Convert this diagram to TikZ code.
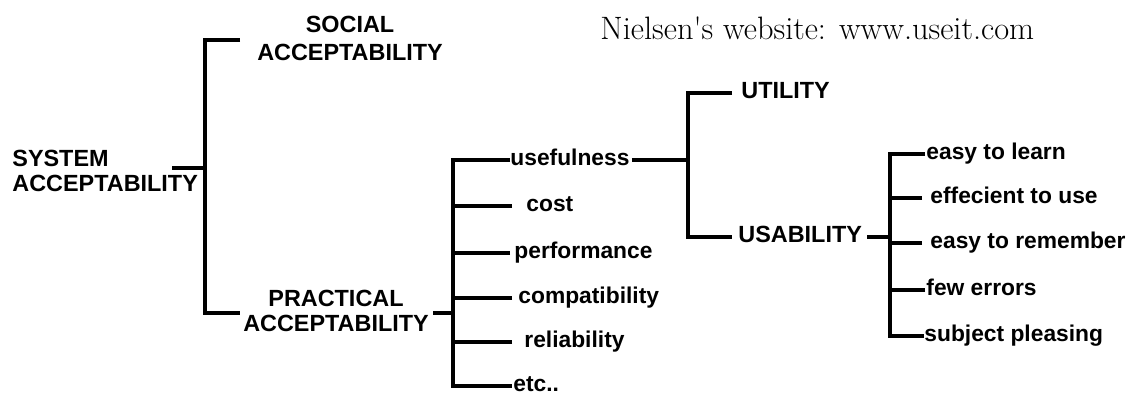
\documentclass[tikz,border=0pt]{standalone}
\usepackage{fontspec}
\setsansfont{Liberation Sans}
\begin{document}
\begin{tikzpicture}[x=.5pt,y=-.5pt,line join=miter,
		tree/.style={line width=2pt},
		caps/.style={inner sep=0pt,font=\sffamily\bfseries\fontsize{11.7}{12.5}\selectfont},
		leaf/.style={inner sep=0pt,anchor=west,text height=1.5ex,text depth=.25ex,font=\sffamily\bfseries\fontsize{11.4}{13}\selectfont}]
		\useasboundingbox(0,0)rectangle(1127,394);
		\node[inner sep=0pt,anchor=west,font=\fontsize{16.2}{18}\selectfont](web)at(600,28){Nielsen\textquotesingle s website: www.useit.com};
		% first level
		\node[caps,align=left,anchor=west](sys)at(12,171){SYSTEM\\ACCEPTABILITY};
		\node[caps,align=center,font=\sffamily\bfseries\fontsize{11.7}{14}\selectfont](soc)at(350,38){SOCIAL\\ACCEPTABILITY};
		\node[caps,align=center](prac)at(336,311){PRACTICAL\\ACCEPTABILITY};
		\coordinate(sysR)at(172,168);
		\coordinate(b1)at(205,168);
		\coordinate(socL)at(240,40);
		\coordinate(pracL)at(240,313);
		\draw[tree](sysR)--(b1);
		\draw[tree](socL)-|(b1)|-(pracL);
		% practical acceptability
		\foreach \nm/\yy/\ee/\tx/\txt in {use/160/510/510/usefulness,cost/206/512/526/cost,perf/253/510/514/performance,comp/298/512/518/compatibility,rel/342/512/524/reliability,etc/386/512/513/etc..}{
			\coordinate(\nm-in)at(\ee,\yy);
			\node[leaf](\nm)at(\tx,\yy){\txt};}
		\coordinate(pracR)at(433,313);
		\coordinate(b2)at(453,313);
		\draw[tree](pracR)--(b2);
		\draw[tree](use-in)-|(b2)|-(etc-in);
		\foreach \nm in {cost,perf,comp,rel}\draw[tree](\nm-in)--(\nm-in -| b2);
		% usefulness
		\node[leaf,caps](util)at(741,93){UTILITY};
		\node[leaf,caps](usab)at(738,237){USABILITY};
		\coordinate(b3)at(688,160);
		\coordinate(utilL)at(732,93);
		\coordinate(usabL)at(732,237);
		\draw[tree]([xshift=1pt]use.east)--(b3);
		\draw[tree](utilL)-|(b3)|-(usabL);
		% usability
		\foreach \nm/\yy/\ee/\tx/\txt in {learn/154/925/926/easy to learn,eff/198/922/930/effecient to use,rem/243/922/930/easy to remember,err/290/925/926/few errors,plea/336/924/924/subject pleasing}{
			\coordinate(\nm-in)at(\ee,\yy);
			\node[leaf](\nm)at(\tx,\yy){\txt};}
		\coordinate(b4)at(890,237);
		\draw[tree]([xshift=2.5pt]usab.east)--(b4);
		\draw[tree](learn-in)-|(b4)|-(plea-in);
		\foreach \nm in {eff,rem,err}\draw[tree](\nm-in)--(\nm-in -| b4);
		
	\end{tikzpicture}
\end{document}
